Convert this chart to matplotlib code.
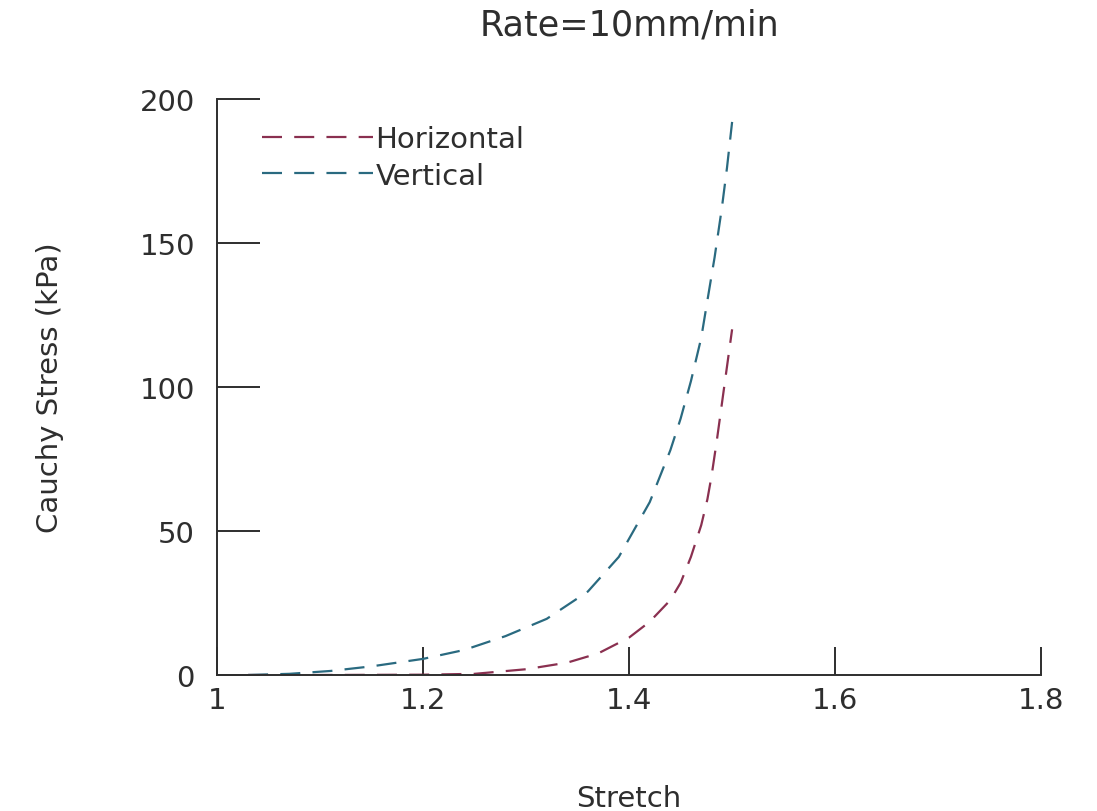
import numpy as np
import matplotlib
matplotlib.use('Agg')
import matplotlib.pyplot as plt

# values
stretch_v = [1.03, 1.07, 1.11, 1.15, 1.2, 1.24, 1.28, 1.32, 1.36, 1.39,
             1.42, 1.44, 1.45, 1.46, 1.47, 1.476, 1.483, 1.49, 1.495, 1.5]
stress_v = [0, 0.4, 1.4, 3, 5.6, 8.7, 13.5, 19.5, 29, 41,
            60, 78, 89, 102, 117, 130, 145, 162, 176, 192]

stretch_h = [1.03, 1.1, 1.2, 1.25, 1.3, 1.34, 1.37, 1.4, 1.42, 1.44,
             1.45, 1.46, 1.47, 1.476, 1.48, 1.485, 1.49, 1.495, 1.5]
stress_h = [0, 0, 0.1, 0.4, 2, 4.3, 7.5, 13, 18.5, 26,
            32, 41, 52, 61, 69, 81, 94, 107, 120]

xticks = [1, 1.2, 1.4, 1.6, 1.8]
yticks = [0, 50, 100, 150, 200]

txt = '#2e2e2e'
plt.rcParams['font.family'] = ['DejaVu Sans']
plt.rcParams['font.size'] = 21

fig = plt.figure(figsize=(10.97, 8.12), dpi=100)
ax = fig.add_axes([0.198, 0.1675, 0.751, 0.7095])

ax.plot(stretch_h, stress_h, color='#8a3050', lw=1.6, dashes=(9, 5.5),
        label='Horizontal')
ax.plot(stretch_v, stress_v, color='#2a6a80', lw=1.6, dashes=(9, 5.5),
        label='Vertical')

ax.set_xlim(1, 1.8)
ax.set_ylim(0, 200)
ax.set_xticks(xticks)
ax.set_xticklabels(['1', '1.2', '1.4', '1.6', '1.8'])
ax.set_yticks(yticks)

for s in ['top', 'right']:
    ax.spines[s].set_visible(False)
for s in ['left', 'bottom']:
    ax.spines[s].set_color(txt)
    ax.spines[s].set_linewidth(1.4)

ax.tick_params(axis='x', direction='in', length=20, width=1.4,
               colors=txt, pad=8)
ax.tick_params(axis='y', direction='in', length=31, width=1.4,
               colors=txt, pad=16)

ax.set_title('Rate=10mm/min', color=txt, pad=46)
ax.set_xlabel('Stretch', color=txt, labelpad=50)
ax.set_ylabel('Cauchy Stress (kPa)', color=txt, labelpad=54)

leg = ax.legend(loc='upper left', bbox_to_anchor=(0.04, 0.975),
                frameon=False, handlelength=3.8, handletextpad=0.1,
                labelspacing=0.3, borderaxespad=0)
for t in leg.get_texts():
    t.set_color(txt)

fig.savefig('out.png', dpi=100, facecolor='white')
